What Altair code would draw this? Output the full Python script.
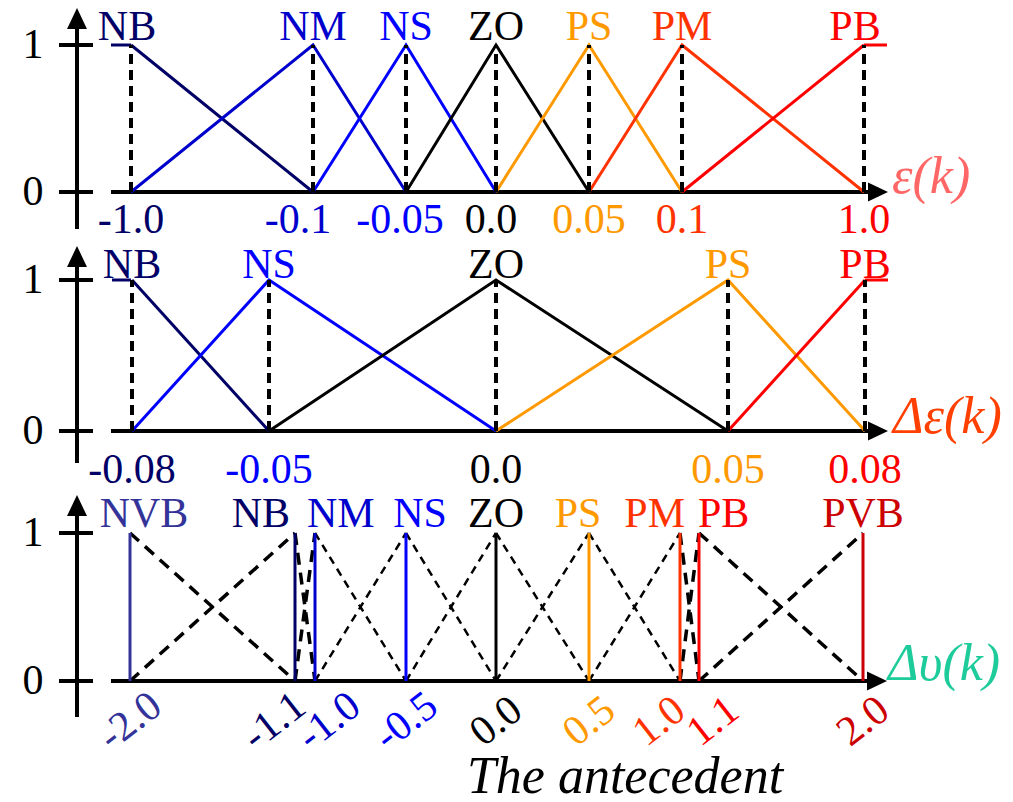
import altair as alt
import pandas as pd
import math

# ---------------- data ----------------
# panel 1: error e(k)
e_terms = ["NB", "NM", "NS", "ZO", "PS", "PM", "PB"]
e_values = [-1.0, -0.1, -0.05, 0.0, 0.05, 0.1, 1.0]
e_labels = ["-1.0", "-0.1", "-0.05", "0.0", "0.05", "0.1", "1.0"]

# panel 2: change of error
de_terms = ["NB", "NS", "ZO", "PS", "PB"]
de_values = [-0.08, -0.05, 0.0, 0.05, 0.08]
de_labels = ["-0.08", "-0.05", "0.0", "0.05", "0.08"]

# panel 3: output increment
du_terms = ["NVB", "NB", "NM", "NS", "ZO", "PS", "PM", "PB", "PVB"]
du_values = [-2.0, -1.1, -1.0, -0.5, 0.0, 0.5, 1.0, 1.1, 2.0]
du_labels = ["-2.0", "-1.1", "-1.0", "-0.5", "0.0", "0.5", "1.0", "1.1", "2.0"]

membership_ticks = [0, 1]
axis_titles = ["ε(k)", "Δε(k)", "Δυ(k)"]
bottom_title = "The antecedent"

# ---------------- styles ----------------
e_colors = ["#000066", "#0000cc", "#0000ff", "#000000", "#ff9900", "#ff3300", "#ff0000"]
de_colors = ["#000066", "#0000ff", "#000000", "#ff9900", "#ff0000"]
du_colors = ["#333399", "#000066", "#0000cc", "#0000ff", "#000000", "#ff9900",
             "#ff3300", "#ff0000", "#cc0000"]
title_colors = ["#ff6666", "#ff4000", "#1ecb9b"]
FONT = "Liberation Serif"
LABEL_SIZE = 42
W = 997
UP = "M0,-1L0.95,1L-0.95,1Z"
RIGHT = "M1,0L-1,-0.95L-1,0.95Z"

# label placement (align, dx) per term
e_term_style = {"NB": ("center", -4), "PB": ("center", -9)}
e_tick_dx = {"NM": -15, "NS": -6, "ZO": -5}
du_term_style = {"NVB": ("center", 14), "NB": ("right", -5), "NM": ("left", -8),
                 "NS": ("center", 14), "PS": ("center", -11), "PM": ("right", 5),
                 "PB": ("left", -1)}
# rotated tick labels nudged along the axis (screen px)
du_tick_shift = {"NB": -21, "PM": -21, "NM": 14, "PB": 14}


def tri_df(terms, values):
    rows = []
    n = len(values)
    for i, t in enumerate(terms):
        pts = []
        if i > 0:
            pts.append((values[i - 1], 0.0))
        pts.append((values[i], 1.0))
        if i < n - 1:
            pts.append((values[i + 1], 0.0))
        for k, (x, m) in enumerate(pts):
            rows.append({"term": t, "x": x, "mu": m, "order": k})
    return pd.DataFrame(rows)


def seg_df(values):
    rows = []
    for j in range(len(values) - 1):
        a, b = values[j], values[j + 1]
        rows += [
            {"seg": f"r{j}", "j": j, "x": a, "mu": 0.0, "order": 0},
            {"seg": f"r{j}", "j": j, "x": b, "mu": 1.0, "order": 1},
            {"seg": f"f{j}", "j": j, "x": a, "mu": 1.0, "order": 0},
            {"seg": f"f{j}", "j": j, "x": b, "mu": 0.0, "order": 1},
        ]
    return pd.DataFrame(rows)


def pts_df(terms, values, labels):
    return pd.DataFrame({"term": terms, "x": values, "label": labels,
                         "lo": [0.0] * len(terms), "hi": [1.0] * len(terms)})


def yscale(H, y0, y1):
    ppu = y0 - y1
    return alt.Scale(domain=[(y0 - H) / ppu, y0 / ppu], zero=False, nice=False)


def frame(ys, arrow_cy, axis_bottom, xarrow_cx):
    ax = pd.DataFrame({"mu": membership_ticks, "txt": [str(t) for t in membership_ticks]})
    Y = alt.Y("mu:Q", scale=ys, axis=None)
    one = alt.Chart(pd.DataFrame({"mu": [0]}))
    return [
        one.mark_rule(color="black", strokeWidth=4).encode(
            x=alt.value(69), y=alt.value(arrow_cy + 8), y2=alt.value(axis_bottom)),
        one.mark_point(shape=UP, size=441, filled=True, color="black", opacity=1,
                       strokeWidth=0).encode(x=alt.value(69), y=alt.value(arrow_cy)),
        alt.Chart(ax).mark_rule(color="black", strokeWidth=4).encode(
            x=alt.value(51), x2=alt.value(85), y=Y),
        alt.Chart(ax).mark_text(font=FONT, fontSize=42, baseline="middle", align="center",
                                color="black").encode(x=alt.value(25), y=Y, text="txt:N"),
        one.mark_rule(color="black", strokeWidth=4).encode(
            x=alt.value(103), x2=alt.value(xarrow_cx - 5), y=Y),
        one.mark_point(shape=RIGHT, size=400, filled=True, color="black", opacity=1,
                       strokeWidth=0).encode(x=alt.value(xarrow_cx), y=Y),
    ]


def shoulder(ys, color, xa, xb):
    return alt.Chart(pd.DataFrame({"mu": [1]})).mark_rule(color=color, strokeWidth=3).encode(
        x=alt.value(xa), x2=alt.value(xb), y=alt.Y("mu:Q", scale=ys, axis=None))


def text_layers(pts, terms, style, X, C, y, field):
    plain = [t for t in terms if t not in style]
    layers = []
    if plain:
        layers.append(pts.mark_text(font=FONT, fontSize=LABEL_SIZE, baseline="alphabetic",
                                    align="center").encode(
            X, y=alt.value(y), text=f"{field}:N", color=C).transform_filter(
            alt.FieldOneOfPredicate(field="term", oneOf=plain)))
    for t, (align, dx) in style.items():
        layers.append(pts.mark_text(font=FONT, fontSize=LABEL_SIZE, baseline="alphabetic",
                                    align=align, dx=dx).encode(
            X, y=alt.value(y), text=f"{field}:N", color=C).transform_filter(
            alt.FieldEqualPredicate(field="term", equal=t)))
    return layers


def title_layer(text, color, x, y):
    return alt.Chart(pd.DataFrame({"t": [text]})).mark_text(
        font=FONT, fontSize=52, fontStyle="italic", baseline="alphabetic", align="left",
        color=color).encode(x=alt.value(x), y=alt.value(y), text="t:N")


def triangle_panel(terms, values, labels, colors, xrange, H, y0, y1, arrow_cy, axis_bottom,
                   term_base, tick_base, title, tcolor, title_x, title_base, shoulders,
                   style, tick_style):
    xs = alt.Scale(domain=values, range=xrange, zero=False, nice=False)
    ys = yscale(H, y0, y1)
    cs = alt.Scale(domain=terms, range=colors)
    X = alt.X("x:Q", scale=xs, axis=None)
    C = alt.Color("term:N", scale=cs, legend=None)
    tri = alt.Chart(tri_df(terms, values)).mark_line(strokeWidth=3).encode(
        X, alt.Y("mu:Q", scale=ys, axis=None), C, order="order:Q", detail="term:N")
    pts = alt.Chart(pts_df(terms, values, labels))
    dashed = pts.mark_rule(color="black", strokeWidth=4, strokeDash=[10, 6]).encode(
        X, alt.Y("lo:Q", scale=ys, axis=None), y2="hi:Q")
    sh = [shoulder(ys, c, a, b) for (c, a, b) in shoulders]
    tick_st = {t: ("center", d) for t, d in tick_style.items()}
    layers = (frame(ys, arrow_cy, axis_bottom, 870) + [tri] + sh + [dashed]
              + text_layers(pts, terms, style, X, C, term_base, "term")
              + text_layers(pts, terms, tick_st, X, C, tick_base, "label")
              + [title_layer(title, tcolor, title_x, title_base)])
    return alt.layer(*layers).properties(width=W, height=H)


p1 = triangle_panel(e_terms, e_values, e_labels, e_colors,
                    [123, 305, 398, 488, 581, 674, 856], 240, 184, 37, 10.5, 221,
                    32, 225, axis_titles[0], title_colors[0], 884, 185,
                    [(e_colors[0], 103, 123), (e_colors[-1], 856, 879)],
                    e_term_style, e_tick_dx)
p2 = triangle_panel(de_terms, de_values, de_labels, de_colors,
                    [124, 261, 488, 720, 857], 240, 183, 32, 8.5, 215,
                    30, 235, axis_titles[1], title_colors[1], 885, 185,
                    [(de_colors[0], 104, 123), (de_colors[-1], 857, 880)], {}, {})

# ---------------- panel 3 ----------------
H3, y03, y13 = 306, 193, 45
xs3 = alt.Scale(domain=du_values, range=[122, 287, 307, 398, 488, 581, 672, 691, 855],
                zero=False, nice=False)
ys3 = yscale(H3, y03, y13)
cs3 = alt.Scale(domain=du_terms, range=du_colors)
X3 = alt.X("x:Q", scale=xs3, axis=None)
C3 = alt.Color("term:N", scale=cs3, legend=None)
n3 = len(du_values)
outer = [0, 1, n3 - 3, n3 - 2]

segs = alt.Chart(seg_df(du_values))
seg_thick = segs.mark_line(color="black", strokeWidth=3.5, strokeDash=[12, 8]).encode(
    X3, alt.Y("mu:Q", scale=ys3, axis=None), detail="seg:N", order="order:Q"
).transform_filter(alt.FieldOneOfPredicate(field="j", oneOf=outer))
seg_thin = segs.mark_line(color="black", strokeWidth=2.5, strokeDash=[8, 6]).encode(
    X3, alt.Y("mu:Q", scale=ys3, axis=None), detail="seg:N", order="order:Q"
).transform_filter(~alt.FieldOneOfPredicate(field="j", oneOf=outer))

pts3 = alt.Chart(pts_df(du_terms, du_values, du_labels))
verticals = pts3.mark_rule(strokeWidth=3).encode(
    X3, alt.Y("lo:Q", scale=ys3, axis=None), y2="hi:Q", color=C3)

ANGLE = 322
_th = math.radians(ANGLE - 360)


def tick_layer(terms_sel, sx):
    # convert a horizontal screen shift into the rotated text frame
    dx = sx / (math.cos(_th) - math.sin(_th) * (-math.sin(_th) / math.cos(_th)))
    dy = -dx * math.sin(_th) / math.cos(_th)
    return pts3.mark_text(font=FONT, fontSize=42, baseline="middle", align="center",
                          angle=ANGLE, dx=round(dx, 1), dy=round(dy, 1)).encode(
        X3, y=alt.value(233), text="label:N", color=C3).transform_filter(
        alt.FieldOneOfPredicate(field="term", oneOf=terms_sel))


shifts = sorted(set([0] + list(du_tick_shift.values())))
ticks3 = [tick_layer([t for t in du_terms if du_tick_shift.get(t, 0) == s], s)
          for s in shifts]

bottom = alt.Chart(pd.DataFrame({"t": [bottom_title]})).mark_text(
    font=FONT, fontSize=52, fontStyle="italic", baseline="alphabetic", align="center",
    color="black").encode(x=alt.value(617), y=alt.value(305), text="t:N")

p3 = alt.layer(*(frame(ys3, 17.5, 229, 869) + [seg_thick, seg_thin, verticals]
                 + text_layers(pts3, du_terms, du_term_style, X3, C3, 39, "term") + ticks3
                 + [title_layer(axis_titles[2], title_colors[2], 880, 192), bottom])
               ).properties(width=W, height=H3)

chart = alt.vconcat(p1, p2, p3, spacing=0, bounds="flush").resolve_scale(
    x="independent", y="independent", color="independent"
).properties(padding={"top": -2, "bottom": -9, "left": 0, "right": 0},
             background="white").configure_view(stroke=None)

chart.save("out.html", embed_options={"renderer": "svg", "actions": False})
